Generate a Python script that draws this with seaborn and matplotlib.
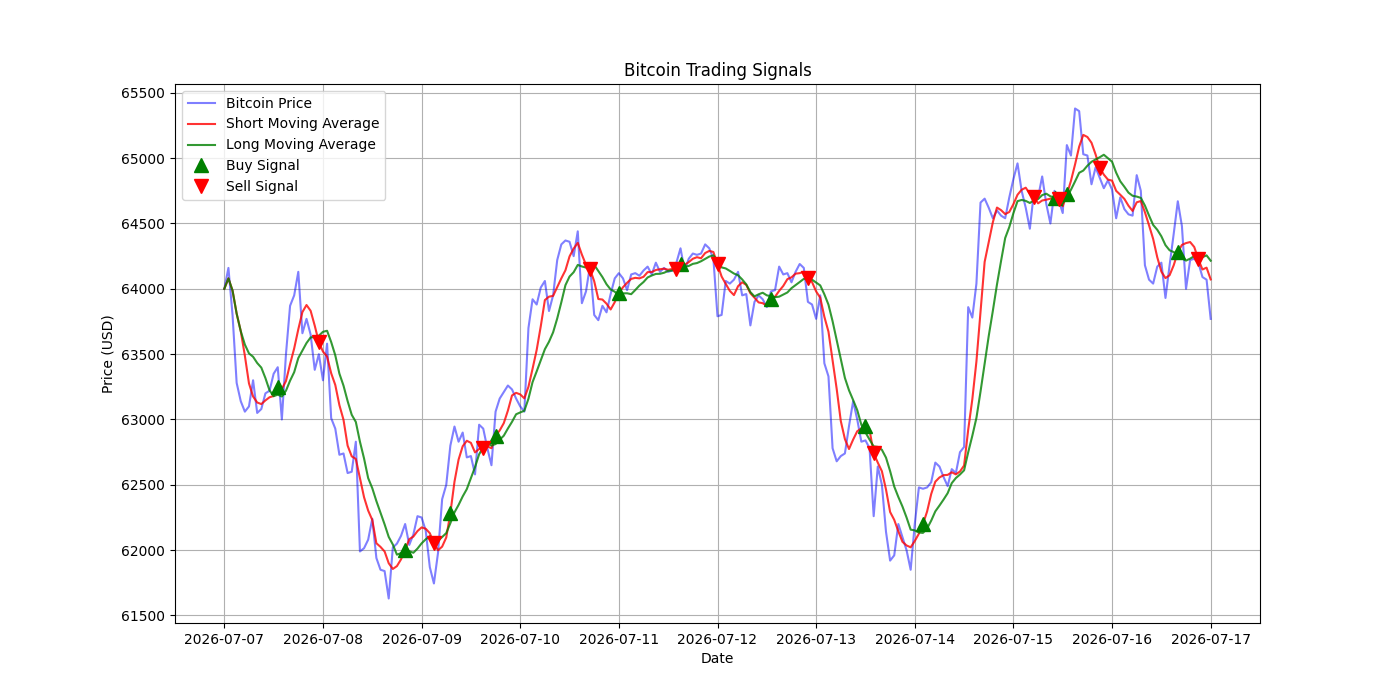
import numpy as np
import pandas as pd
import matplotlib
matplotlib.use("Agg")
import matplotlib.pyplot as plt
import matplotlib.dates as mdates
import seaborn as sns

start_date = "2026-07-07"
n_hours = 241

price = [
    64000, 64160, 63800, 63280, 63140, 63060, 63100, 63300, 63050, 63080,
    63200, 63220, 63350, 63400, 63000, 63500, 63870, 63950, 64130, 63660,
    63770, 63650, 63380, 63500, 63300, 63580, 63010, 62930, 62730, 62740,
    62590, 62600, 62830, 61990, 62015, 62080, 62240, 61940, 61850, 61840,
    61630, 62020, 62050, 62110, 62200, 62040, 62120, 62260, 62250, 62150,
    61870, 61745, 61980, 62390, 62500, 62800, 62946, 62830, 62900, 62710,
    62720, 62580, 62960, 62930, 62780, 62650, 63060, 63160, 63210, 63260,
    63230, 63160, 63100, 63060, 63700, 63920, 63880, 64010, 64060, 63830,
    63950, 64220, 64340, 64370, 64360, 64250, 64440, 63890, 63980, 64180,
    63800, 63760, 63870, 63820, 63960, 64080, 64120, 64080, 63990, 64110,
    64120, 64100, 64140, 64170, 64110, 64200, 64130, 64160, 64130, 64140,
    64200, 64310, 64140, 64230, 64270, 64260, 64270, 64340, 64310, 64230,
    63790, 63800, 64060, 64040, 64070, 64130, 63950, 63960, 63720, 63900,
    63950, 63920, 63860, 63980, 63990, 64170, 64110, 64120, 64050, 64130,
    64190, 64160, 63900, 63880, 63770, 63950, 63430, 63330, 62780, 62680,
    62720, 62740, 62950, 63140, 63000, 62830, 62840, 62780, 62260, 62640,
    62500, 62140, 61920, 61960, 62200, 62100, 62000, 61850, 62200, 62480,
    62470, 62480, 62520, 62670, 62640, 62560, 62490, 62620, 62590, 62750,
    62790, 63860, 63780, 64040, 64660, 64690, 64620, 64540, 64600, 64560,
    64540, 64700, 64840, 64960, 64750, 64620, 64460, 64740, 64700, 64860,
    64650, 64500, 64750, 64680, 64580, 65100, 65020, 65380, 65360, 65030,
    65020, 64800, 64930, 64850, 64770, 64830, 64760, 64540, 64700, 64610,
    64570, 64560, 64870, 64750, 64180, 64070, 64040, 64170, 64200, 63930,
    64180, 64420, 64670, 64480, 64000, 64220, 64230, 64200, 64090, 64070,
    63770,
]

short_window = 5
long_window = 10

buy_idx = [13, 44, 55, 66, 96, 111, 133, 156, 170, 202, 205, 232]
sell_idx = [23, 51, 63, 89, 110, 120, 142, 158, 197, 203, 213, 237]

dates = pd.date_range(start_date, periods=n_hours, freq="h")
df = pd.DataFrame({"Date": dates, "Price": price})
df["Short"] = df["Price"].rolling(short_window, min_periods=1).mean()
df["Long"] = df["Price"].rolling(long_window, min_periods=1).mean()

fig, ax = plt.subplots(figsize=(14, 7), dpi=100)
sns.lineplot(data=df, x="Date", y="Price", ax=ax, color="blue", alpha=0.5, label="Bitcoin Price")
sns.lineplot(data=df, x="Date", y="Short", ax=ax, color="red", alpha=0.8, label="Short Moving Average")
sns.lineplot(data=df, x="Date", y="Long", ax=ax, color="green", alpha=0.8, label="Long Moving Average")

buys = df.iloc[buy_idx]
sells = df.iloc[sell_idx]
ax.plot(buys["Date"], buys["Short"], "^", markersize=10, color="g", label="Buy Signal")
ax.plot(sells["Date"], sells["Short"], "v", markersize=10, color="r", label="Sell Signal")

ax.set_title("Bitcoin Trading Signals")
ax.set_xlabel("Date")
ax.set_ylabel("Price (USD)")
ax.xaxis.set_major_locator(mdates.DayLocator())
ax.xaxis.set_major_formatter(mdates.DateFormatter("%Y-%m-%d"))
ax.grid(True)
ax.legend(loc="upper left")

fig.subplots_adjust(left=0.125, right=0.9, bottom=0.11, top=0.88)
fig.savefig("out.png", dpi=100)
